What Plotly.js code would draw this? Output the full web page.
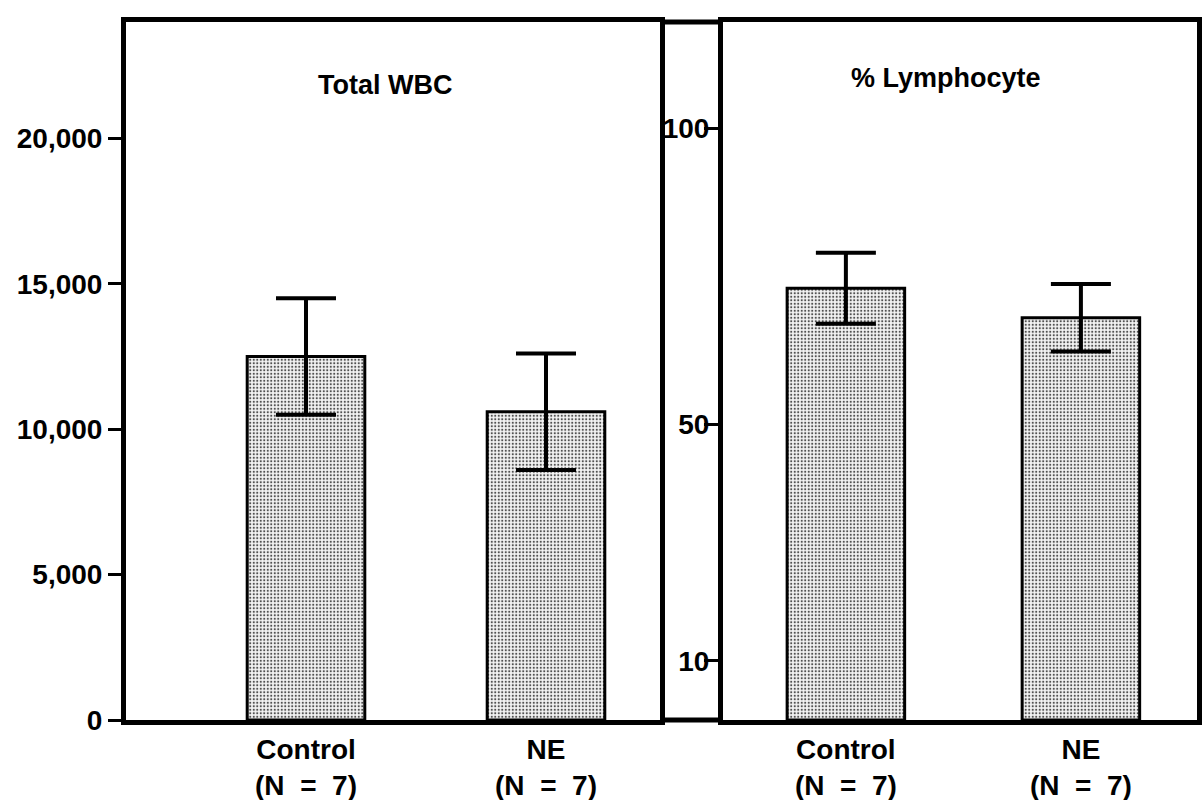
<!DOCTYPE html>
<html>
<head>
<meta charset="utf-8">
<script src="https://cdn.plot.ly/plotly-3.0.1.min.js"></script>
<style>html,body{margin:0;padding:0;background:#fff;}</style>
</head>
<body>
<div id="chart" style="width:1203px;height:800px;"></div>
<script>
// Data
const categories = ["Control<br>(N \u00a0=\u00a0 7)", "NE<br>(N \u00a0=\u00a0 7)"];
const wbcMean = [12500, 10600];
const wbcErr = [2000, 2000];
const lymphMean = [73, 68];
const lymphErr = [6, 5.7];
const wbcTicks = [0, 5000, 10000, 15000, 20000];
const wbcTickText = ["0", "5,000", "10,000", "15,000", "20,000"];
const lymphTicks = [10, 50, 100];
const lymphTickText = ["10", "50", "100"];
const panelTitles = ["Total WBC", "% Lymphocyte"];

const FONT = "Liberation Sans, Arial, Helvetica, sans-serif";
const pattern = {shape: ".", size: 3.5, solidity: 0.3, fgcolor: "#505050", bgcolor: "#f4f4f4"};

const barStyle = (xa, ya, y, e, w) => ({
  type: "bar", x: categories, y: y, xaxis: xa, yaxis: ya, width: w,
  marker: {color: "#f4f4f4", pattern: pattern, line: {color: "#000", width: 3}},
  error_y: {type: "data", array: e, visible: true, color: "#000", thickness: 4, width: 30},
  hoverinfo: "skip", showlegend: false
});

const data = [
  barStyle("x", "y", wbcMean, wbcErr, 0.49),
  barStyle("x2", "y2", lymphMean, lymphErr, 0.5)
];

const axisFont = {family: FONT, size: 28, color: "#000", weight: "bold"};

const layout = {
  width: 1203, height: 800,
  margin: {l: 126, r: 6, t: 22, b: 80},
  paper_bgcolor: "#fff", plot_bgcolor: "#fff",
  font: {family: FONT, color: "#000"},
  xaxis: {domain: [0, 0.4986], range: [-0.75, 1.475], showline: true, linecolor: "#000", linewidth: 5,
          mirror: true, ticks: "", tickfont: axisFont, showgrid: false, zeroline: false, fixedrange: true},
  xaxis2: {domain: [0.5574, 1], anchor: "y2", range: [-0.523, 1.494], showline: true, linecolor: "#000", linewidth: 5,
          mirror: true, ticks: "", tickfont: axisFont, showgrid: false, zeroline: false, fixedrange: true},
  yaxis: {range: [0, 24000], tickvals: wbcTicks, ticktext: wbcTickText, ticks: "outside", ticklen: 13, tickwidth: 3,
          tickcolor: "#000", showline: true, linecolor: "#000", linewidth: 5, mirror: true, tickfont: axisFont,
          showgrid: false, zeroline: false, fixedrange: true},
  yaxis2: {anchor: "x2", range: [0, 118], tickvals: lymphTicks, ticktext: lymphTickText, ticks: "outside", ticklen: 14, tickwidth: 3,
          tickcolor: "#000", showline: true, linecolor: "#000", linewidth: 5, mirror: true, tickfont: axisFont,
          ticklabelstandoff: -11, showgrid: false, zeroline: false, fixedrange: true},
  shapes: [
    {type: "line", xref: "paper", yref: "paper", x0: 0.4986, x1: 0.5574, y0: 0, y1: 0, line: {color: "#000", width: 5}},
    {type: "line", xref: "paper", yref: "paper", x0: 0.4986, x1: 0.5574, y0: 1, y1: 1, line: {color: "#000", width: 5}}
  ],
  annotations: [
    {text: panelTitles[0], xref: "paper", yref: "paper", x: (385-126)/1071, y: 1 - (85-22)/698, showarrow: false,
     font: {family: FONT, size: 27, color: "#000", weight: "bold"}, xanchor: "center", yanchor: "middle"},
    {text: panelTitles[1], xref: "paper", yref: "paper", x: (946-126)/1071, y: 1 - (78-22)/698, showarrow: false,
     font: {family: FONT, size: 27, color: "#000", weight: "bold"}, xanchor: "center", yanchor: "middle"}
  ]
};

Plotly.newPlot("chart", data, layout, {displayModeBar: false, staticPlot: true});
</script>
</body>
</html>
